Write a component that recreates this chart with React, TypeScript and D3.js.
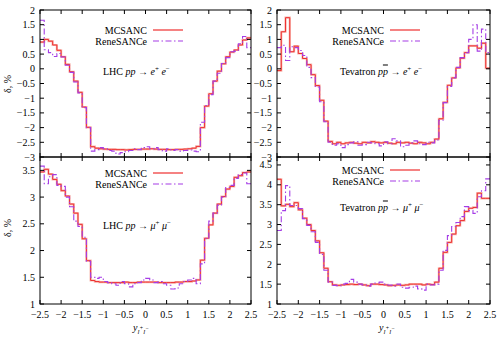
import React from "react";
import * as d3 from "d3";

// ---- data ----
const xEdges = [
  -2.5, -2.4, -2.3, -2.2, -2.1, -2.0, -1.9, -1.8, -1.7, -1.6, -1.5, -1.4, -1.3, -1.2, -1.1, -1.0, -0.9,
  -0.8, -0.7, -0.6, -0.5, -0.4, -0.3, -0.2, -0.1, 0.0, 0.1, 0.2, 0.3, 0.4, 0.5, 0.6, 0.7, 0.8, 0.9, 1.0,
  1.1, 1.2, 1.3, 1.4, 1.5, 1.6, 1.7, 1.8, 1.9, 2.0, 2.1, 2.2, 2.3, 2.4, 2.5,
];
const xTicks = [-2.5, -2, -1.5, -1, -0.5, 0, 0.5, 1, 1.5, 2, 2.5];
const yTicksEE = [-3, -2.5, -2, -1.5, -1, -0.5, 0, 0.5, 1, 1.5, 2];
const yTicksLhcMu = [1, 1.5, 2, 2.5, 3, 3.5];
const yTicksTevMu = [1, 1.5, 2, 2.5, 3, 3.5, 4, 4.5];

const mcsancLhcEE = [
  0.91, 1.0, 0.94, 0.81, 0.63, 0.41, 0.15, -0.1, -0.42, -0.8, -1.3, -1.99, -2.65,
  -2.7, -2.72, -2.73, -2.74, -2.74, -2.75, -2.75, -2.76, -2.75, -2.74, -2.74, -2.73,
  -2.73, -2.72, -2.73, -2.74, -2.74, -2.75, -2.75, -2.74, -2.74, -2.73, -2.72, -2.7,
  -2.64, -2.0, -1.27, -0.85, -0.42, -0.08, 0.17, 0.41, 0.57, 0.64, 0.81, 0.98, 1.05,
];
const reneLhcEE = [
  1.65, 0.65, 0.55, 0.42, 0.52, 0.4, 0.12, -0.12, -0.45, -0.82, -1.32, -2.0, -2.8,
  -2.75, -2.68, -2.72, -2.78, -2.8, -2.9, -2.85, -2.82, -2.78, -2.72, -2.75, -2.68,
  -2.65, -2.72, -2.68, -2.75, -2.8, -2.72, -2.78, -2.75, -2.8, -2.78, -2.76, -2.8,
  -2.82, -1.82, -1.25, -0.88, -0.42, -0.15, 0.18, 0.38, 0.58, 0.6, 0.85, 1.1, 0.72,
];
const mcsancTevEE = [
  -0.06, 1.26, 1.74, 0.58, 0.77, 0.52, 0.35, 0.14, -0.2, -0.57, -1.07, -1.78, -2.47,
  -2.55, -2.5, -2.55, -2.52, -2.5, -2.53, -2.55, -2.5, -2.52, -2.48, -2.5, -2.52,
  -2.5, -2.53, -2.55, -2.5, -2.52, -2.5, -2.53, -2.55, -2.5, -2.52, -2.55, -2.5,
  -2.39, -1.7, -1.14, -0.56, -0.31, 0.03, 0.36, 0.55, 0.78, 0.78, 0.7, 0.87, 0.02,
];
const reneTevEE = [
  0.72, 0.8, 0.28, 0.75, 0.72, 0.62, 0.45, 0.05, -0.3, -0.62, -1.12, -1.8, -2.5,
  -2.6, -2.55, -2.68, -2.58, -2.52, -2.48, -2.6, -2.58, -2.5, -2.52, -2.55, -2.62,
  -2.48, -2.55, -2.38, -2.45, -2.65, -2.6, -2.52, -2.45, -2.55, -2.58, -2.5, -2.52,
  -2.42, -1.75, -1.15, -0.6, -0.3, 0.05, 0.38, 0.55, 1.0, 1.5, 0.6, 1.35, 0.55,
];
const mcsancLhcMu = [
  3.47, 3.52, 3.43, 3.33, 3.24, 3.12, 3.02, 2.87, 2.7, 2.49, 2.22, 1.81, 1.44,
  1.42, 1.41, 1.41, 1.4, 1.4, 1.4, 1.4, 1.41, 1.4, 1.4, 1.41, 1.41,
  1.41, 1.41, 1.41, 1.4, 1.4, 1.4, 1.4, 1.41, 1.41, 1.42, 1.42, 1.43,
  1.45, 1.82, 2.23, 2.48, 2.7, 2.87, 3.01, 3.15, 3.2, 3.37, 3.4, 3.46, 3.47,
];
const reneLhcMu = [
  3.58, 3.25, 3.38, 3.42, 3.22, 3.2, 3.0, 2.82, 2.55, 2.45, 2.25, 1.8, 1.5,
  1.48, 1.5, 1.42, 1.4, 1.38, 1.35, 1.42, 1.38, 1.32, 1.38, 1.4, 1.45,
  1.48, 1.45, 1.4, 1.42, 1.38, 1.35, 1.28, 1.3, 1.38, 1.42, 1.45, 1.48,
  1.38, 1.75, 2.22, 2.55, 2.7, 2.85, 3.0, 3.18, 3.22, 3.35, 3.42, 3.45, 3.25,
];
const mcsancTevMu = [
  4.14, 3.47, 3.51, 3.45, 3.55, 3.37, 3.16, 3.0, 2.85, 2.59, 2.29, 1.9, 1.56,
  1.48, 1.47, 1.48, 1.49, 1.5, 1.49, 1.5, 1.48, 1.46, 1.5, 1.5, 1.49,
  1.48, 1.46, 1.47, 1.48, 1.47, 1.48, 1.5, 1.5, 1.5, 1.48, 1.5, 1.49,
  1.55, 1.9, 2.3, 2.55, 2.76, 2.97, 3.1, 3.33, 3.41, 3.43, 3.79, 3.66, 3.66,
];
const reneTevMu = [
  2.85, 3.35, 3.98, 3.48, 3.48, 3.4, 3.15, 2.98, 2.82, 2.55, 2.25, 1.85, 1.55,
  1.47, 1.46, 1.5, 1.52, 1.62, 1.55, 1.5, 1.48, 1.45, 1.5, 1.53, 1.55,
  1.5, 1.48, 1.45, 1.5, 1.42, 1.4, 1.42, 1.45, 1.38, 1.35, 1.5, 1.48,
  1.5, 1.85, 2.35, 2.72, 2.95, 3.05, 3.2, 3.45, 3.35, 3.28, 3.7, 3.85, 4.15,
];
const seriesNames = ["MCSANC", "ReneSANCe"];

// ---- style ----
const RED = "#ee3030";
const RED_HALO = "#f7b7ae";
const PURPLE = "#a53de6";
const DASH = "6,2.5,1.5,2.5";
const FONT = "'Liberation Serif', 'Times New Roman', serif";

type PanelProps = {
  id: string;
  x0: number; x1: number; y0: number; y1: number;
  yDomain: [number, number];
  yTicks: number[];
  showXLabels: boolean;
  a: number[]; b: number[];
  legendY: number;
  annot: React.ReactNode;
  annotY: number;
};

const fmt = (v: number) => String(v).replace("-", "\u2212");

function Panel(p: PanelProps) {
  const x = d3.scaleLinear().domain([-2.5, 2.5]).range([p.x0, p.x1]);
  const y = d3.scaleLinear().domain(p.yDomain).range([p.y1, p.y0]);
  const line = d3
    .line<[number, number]>()
    .x((d) => x(d[0]))
    .y((d) => y(d[1]))
    .curve(d3.curveStepAfter);
  const pts = (vals: number[]) => {
    const arr: [number, number][] = vals.map((v, i) => [xEdges[i], v]);
    arr.push([xEdges[xEdges.length - 1], vals[vals.length - 1]]);
    return arr;
  };
  const tl = 4;
  return (
    <g>
      <defs>
        <clipPath id={p.id}>
          <rect x={p.x0} y={p.y0} width={p.x1 - p.x0} height={p.y1 - p.y0} />
        </clipPath>
      </defs>
      <g clipPath={`url(#${p.id})`}>
        <path d={line(pts(p.a)) || ""} fill="none" stroke={RED_HALO} strokeWidth={2.2} />
        <path d={line(pts(p.a)) || ""} fill="none" stroke={RED} strokeWidth={1} />
        <path d={line(pts(p.b)) || ""} fill="none" stroke={PURPLE} strokeWidth={1.1} strokeDasharray={DASH} />
      </g>
      {xTicks.map((t) => (
        <g key={"xt" + t}>
          <line x1={x(t)} x2={x(t)} y1={p.y1} y2={p.y1 - tl} stroke="#000" strokeWidth={1} />
          <line x1={x(t)} x2={x(t)} y1={p.y0} y2={p.y0 + tl} stroke="#000" strokeWidth={1} />
          {p.showXLabels && (
            <text x={x(t)} y={p.y1 + 14} textAnchor="middle" fontSize={10} fontFamily={FONT}>
              {fmt(t)}
            </text>
          )}
        </g>
      ))}
      {p.yTicks.map((t) => (
        <g key={"yt" + t}>
          <line x1={p.x0} x2={p.x0 + tl} y1={y(t)} y2={y(t)} stroke="#000" strokeWidth={1} />
          <line x1={p.x1} x2={p.x1 - tl} y1={y(t)} y2={y(t)} stroke="#000" strokeWidth={1} />
          <text x={p.x0 - 5} y={y(t) + 3.5} textAnchor="end" fontSize={10} fontFamily={FONT}>
            {fmt(t)}
          </text>
        </g>
      ))}
      <rect x={p.x0} y={p.y0} width={p.x1 - p.x0} height={p.y1 - p.y0} fill="none" stroke="#000" strokeWidth={1} />
      <text x={p.x0 + 107} y={p.legendY + 3.5} textAnchor="end" fontSize={10} fontFamily={FONT}>
        {seriesNames[0]}
      </text>
      <line x1={p.x0 + 113} x2={p.x0 + 143} y1={p.legendY} y2={p.legendY} stroke={RED} strokeWidth={1.2} />
      <text x={p.x0 + 107} y={p.legendY + 11 + 3.5} textAnchor="end" fontSize={10} fontFamily={FONT}>
        {seriesNames[1]}
      </text>
      <line x1={p.x0 + 113} x2={p.x0 + 143} y1={p.legendY + 11} y2={p.legendY + 11} stroke={PURPLE} strokeWidth={1.1} strokeDasharray={DASH} />
      <text x={p.x0 + 63} y={p.annotY + 3.5} fontSize={10} fontFamily={FONT}>
        {p.annot}
      </text>
    </g>
  );
}

const annotLhc = (lep: string) => (
  <>
    <tspan>LHC </tspan>
    <tspan fontStyle="italic">pp</tspan>
    <tspan> → </tspan>
    <tspan fontStyle="italic">{lep}</tspan>
    <tspan dy={-4} fontSize={7}>+</tspan>
    <tspan dy={4}> </tspan>
    <tspan fontStyle="italic">{lep}</tspan>
    <tspan dy={-4} fontSize={7}>−</tspan>
  </>
);
const annotTev = (lep: string) => (
  <>
    <tspan>Tevatron </tspan>
    <tspan fontStyle="italic">p</tspan>
    <tspan fontStyle="italic" style={{ textDecoration: "overline" }}>p</tspan>
    <tspan> → </tspan>
    <tspan fontStyle="italic">{lep}</tspan>
    <tspan dy={-4} fontSize={7}>+</tspan>
    <tspan dy={4}> </tspan>
    <tspan fontStyle="italic">{lep}</tspan>
    <tspan dy={-4} fontSize={7}>−</tspan>
  </>
);

const XLabel = ({ cx }: { cx: number }) => (
  <text x={cx} y={331} textAnchor="middle" fontSize={10} fontFamily={FONT} fontStyle="italic">
    <tspan>y</tspan>
    <tspan dy={2.5} fontSize={7}>l</tspan>
    <tspan dy={-4} fontSize={5.5}>+</tspan>
    <tspan dy={4} fontSize={7}>l</tspan>
    <tspan dy={-4} fontSize={5.5}>−</tspan>
  </text>
);

const YLabel = ({ cy }: { cy: number }) => (
  <text transform={`translate(11,${cy}) rotate(-90)`} textAnchor="middle" fontSize={10} fontFamily={FONT}>
    δ, %
  </text>
);

export default function App() {
  const L = { x0: 40, x1: 251 };
  const R = { x0: 277, x1: 490 };
  const T = { y0: 10, y1: 157 };
  const B = { y0: 157, y1: 304 };
  return (
    <svg width={500} height={350} style={{ position: "absolute", left: 0, top: 0, background: "#fff" }}>
      <rect width={500} height={350} fill="#fff" />
      <Panel id="c1" {...L} {...T} yDomain={[-3, 2]} yTicks={yTicksEE} showXLabels={false}
        a={mcsancLhcEE} b={reneLhcEE} legendY={30} annot={annotLhc("e")} annotY={71} />
      <Panel id="c2" {...R} {...T} yDomain={[-3, 2]} yTicks={yTicksEE} showXLabels={false}
        a={mcsancTevEE} b={reneTevEE} legendY={30} annot={annotTev("e")} annotY={71} />
      <Panel id="c3" {...L} {...B} yDomain={[1, 3.75]} yTicks={yTicksLhcMu} showXLabels={true}
        a={mcsancLhcMu} b={reneLhcMu} legendY={173} annot={annotLhc("μ")} annotY={225} />
      <Panel id="c4" {...R} {...B} yDomain={[1, 4.7]} yTicks={yTicksTevMu} showXLabels={true}
        a={mcsancTevMu} b={reneTevMu} legendY={170} annot={annotTev("μ")} annotY={207} />
      <YLabel cy={84} />
      <YLabel cy={228} />
      <XLabel cx={141} />
      <XLabel cx={387} />
    </svg>
  );
}
